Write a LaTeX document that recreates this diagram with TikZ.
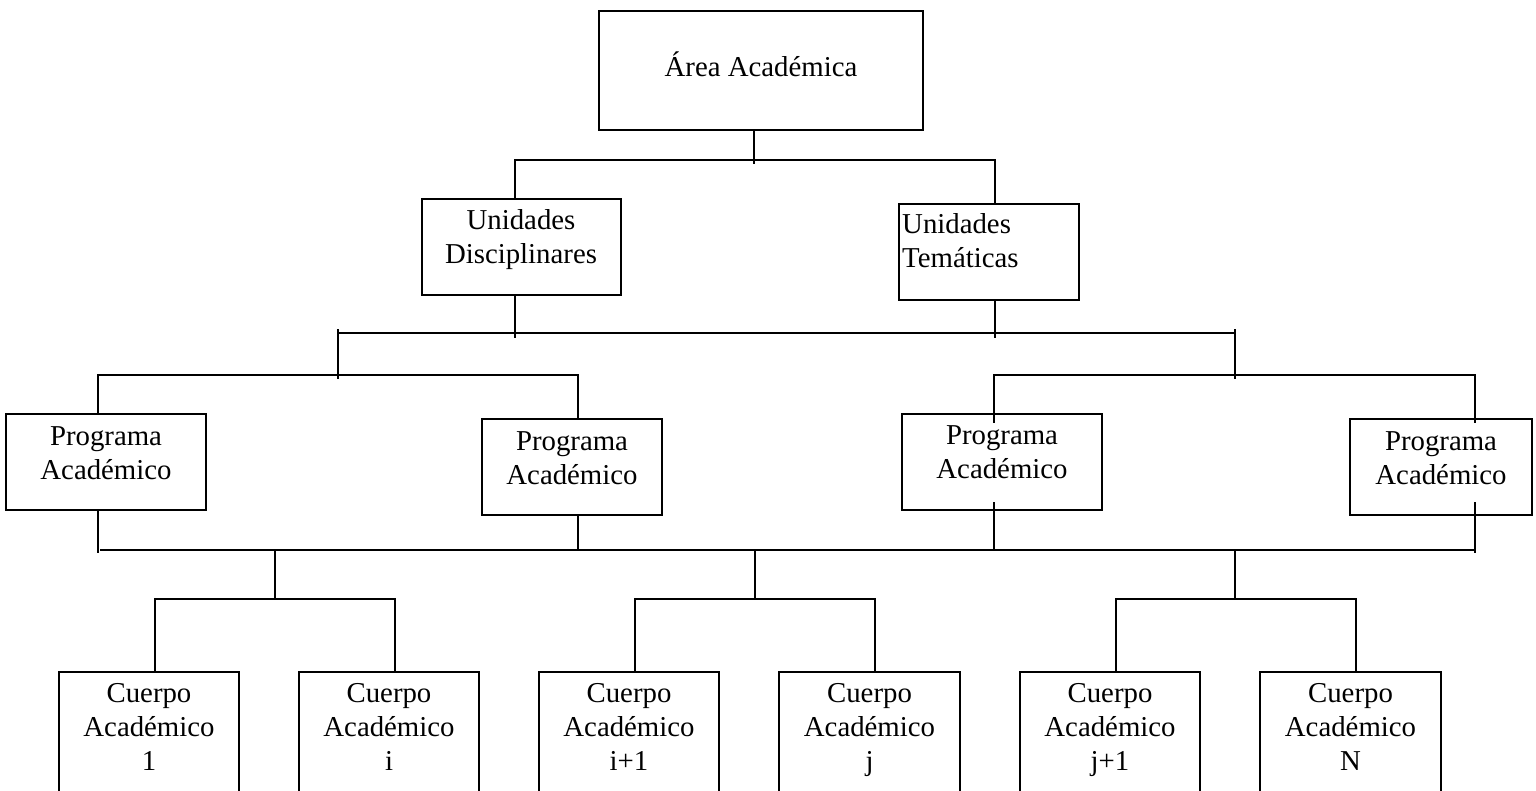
\documentclass[tikz,border=0pt]{standalone}
\usepackage{fontspec}
\setmainfont{Liberation Serif}
\begin{document}
\begin{tikzpicture}[x=1pt,y=-1pt,
  box/.style={draw=black, line width=2.4pt, minimum width=#1, inner sep=0pt, fill=none},
  lbl/.style={font=\fontsize{28.8}{34}\selectfont, align=center, inner sep=0pt, anchor=base},
  conn/.style={draw=black, line width=1.8pt, line cap=rect}]
\useasboundingbox (0,0) rectangle (1536,791);
% ---------- boxes ----------
\node[box=324pt, minimum height=119pt] (area) at (761,70.5) {};
\node[box=199pt, minimum height=96pt] (ud) at (521.5,247) {};
\node[box=180pt, minimum height=96pt] (ut) at (989,252) {};
\node[box=200pt, minimum height=96pt] (p1) at (106,462) {};
\node[box=180pt, minimum height=96pt] (p2) at (572,467) {};
\node[box=200pt, minimum height=96pt] (p3) at (1002,462) {};
\node[box=182pt, minimum height=96pt] (p4) at (1441,467) {};
\node[box=180pt, minimum height=140pt] (c1) at (149,742) {};
\node[box=180pt, minimum height=140pt] (c2) at (389,742) {};
\node[box=180pt, minimum height=140pt] (c3) at (629,742) {};
\node[box=181pt, minimum height=140pt] (c4) at (869.5,742) {};
\node[box=180pt, minimum height=140pt] (c5) at (1110,742) {};
\node[box=181pt, minimum height=140pt] (c6) at (1350.5,742) {};
% ---------- texts (anchor = baseline of the last line) ----------
\node[lbl] (area-t) at (761,77) {Área Académica};
\node[lbl] (ud-t) at (521,264) {Unidades\\Disciplinares};
\node[lbl, align=left, anchor=base west] (ut-t) at (902,268) {Unidades\\Temáticas};
\node[lbl] (p1-t) at (106,479) {Programa\\Académico};
\node[lbl] (p2-t) at (572,484) {Programa\\Académico};
\node[lbl] (p3-t) at (1002,478) {Programa\\Académico};
\node[lbl] (p4-t) at (1441,484) {Programa\\Académico};
\node[lbl] (c1-t) at (149,770) {Cuerpo\\Académico\\1};
\node[lbl] (c2-t) at (389,770) {Cuerpo\\Académico\\i};
\node[lbl] (c3-t) at (629,770) {Cuerpo\\Académico\\i+1};
\node[lbl] (c4-t) at (869.5,770) {Cuerpo\\Académico\\j};
\node[lbl] (c5-t) at (1110,770) {Cuerpo\\Académico\\j+1};
\node[lbl] (c6-t) at (1350.5,770) {Cuerpo\\Académico\\N};
% ---------- junction coordinates ----------
\coordinate (a-tail) at (754,163);
\coordinate (h1l) at (515,160);
\coordinate (h1r) at (995,160);
\coordinate (ud-tail) at (515,337);
\coordinate (ut-tail) at (995,337);
\coordinate (m-l) at (338,333);
\coordinate (m-r) at (1235,333);
\coordinate (ml-top) at (338,330);
\coordinate (mr-top) at (1235,330);
\coordinate (ml-bot) at (338,378);
\coordinate (mr-bot) at (1235,378);
\coordinate (bl-l) at (98,375);
\coordinate (bl-r) at (578,375);
\coordinate (br-l) at (994,375);
\coordinate (br-r) at (1475,375);
\coordinate (p3-in) at (994,422);
\coordinate (p4-in) at (1475,422);
\coordinate (p1-tail) at (98,552);
\coordinate (p2-tail) at (578,550);
\coordinate (p3-tail) at (994,550);
\coordinate (p4-tail) at (1475,552);
\coordinate (p3-top) at (994,503);
\coordinate (p4-top) at (1475,503);
\coordinate (b-l) at (101,550);
\coordinate (b-r) at (1475,550);
\coordinate (g1) at (275,550);
\coordinate (g2) at (755,550);
\coordinate (g3) at (1235,550);
\coordinate (s1l) at (155,599);
\coordinate (s1r) at (395,599);
\coordinate (s2l) at (635,599);
\coordinate (s2r) at (875,599);
\coordinate (s3l) at (1116,599);
\coordinate (s3r) at (1356,599);
% ---------- connectors ----------
\draw[conn] (area.south -| a-tail) -- (a-tail);
\draw[conn] (ud.north -| h1l) -- (h1l) -- (h1r) -- (ut.north -| h1r);
\draw[conn] (ud.south -| ud-tail) -- (ud-tail);
\draw[conn] (ut.south -| ut-tail) -- (ut-tail);
\draw[conn] (m-l) -- (m-r);
\draw[conn] (ml-top) -- (ml-bot);
\draw[conn] (mr-top) -- (mr-bot);
\draw[conn] (p1.north -| bl-l) -- (bl-l) -- (bl-r) -- (p2.north -| bl-r);
\draw[conn] (p3-in) -- (br-l) -- (br-r) -- (p4-in);
\draw[conn] (p1.south -| p1-tail) -- (p1-tail);
\draw[conn] (p2.south -| p2-tail) -- (p2-tail);
\draw[conn] (p3-top) -- (p3-tail);
\draw[conn] (p4-top) -- (p4-tail);
\draw[conn] (b-l) -- (b-r);
\draw[conn] (g1) -- (g1 |- s1l);
\draw[conn] (g2) -- (g2 |- s2l);
\draw[conn] (g3) -- (g3 |- s3l);
\draw[conn] (c1.north -| s1l) -- (s1l) -- (s1r) -- (c2.north -| s1r);
\draw[conn] (c3.north -| s2l) -- (s2l) -- (s2r) -- (c4.north -| s2r);
\draw[conn] (c5.north -| s3l) -- (s3l) -- (s3r) -- (c6.north -| s3r);
\end{tikzpicture}
\end{document}
